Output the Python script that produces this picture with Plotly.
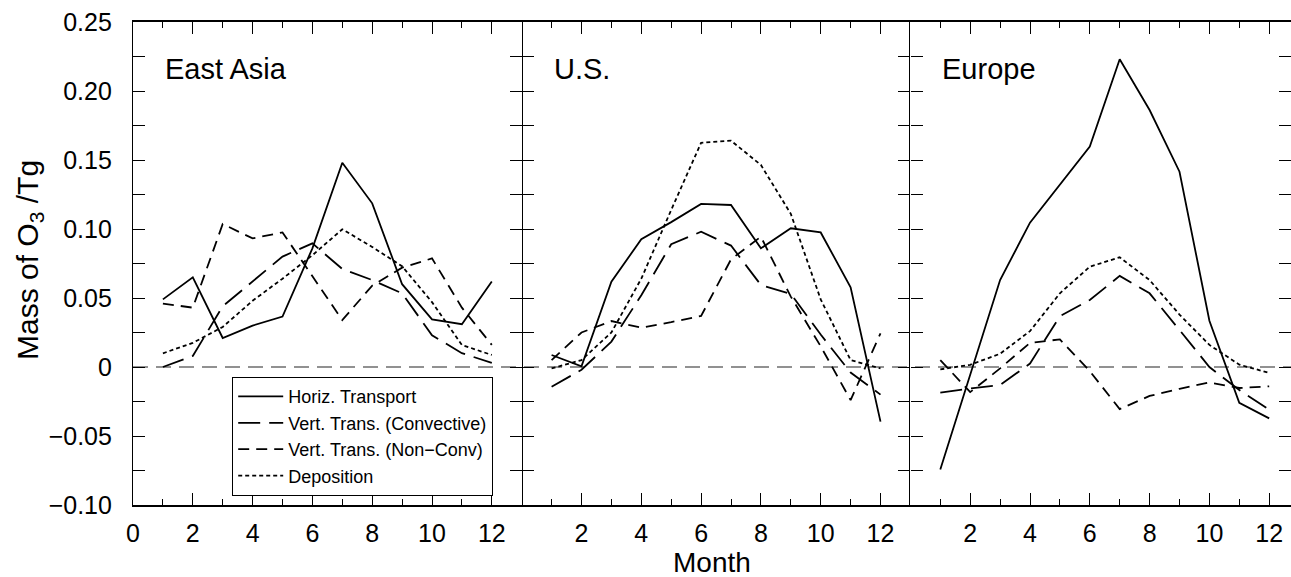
import plotly.graph_objects as go
from plotly.subplots import make_subplots

months = list(range(1, 13))
regions = ["East Asia", "U.S.", "Europe"]
series_names = ["Horiz. Transport", "Vert. Trans. (Convective)",
                "Vert. Trans. (Non\u2212Conv)", "Deposition"]

# East Asia
ea_horiz = [0.049, 0.065, 0.021, 0.030, 0.0365, 0.086, 0.148, 0.1186, 0.060, 0.0345, 0.031, 0.062]
ea_conv = [0.000, 0.008, 0.044, 0.062, 0.080, 0.0896, 0.071, 0.063, 0.0534, 0.023, 0.010, 0.003]
ea_nonconv = [0.046, 0.043, 0.1036, 0.0932, 0.0975, 0.066, 0.034, 0.059, 0.072, 0.0787, 0.043, 0.016]
ea_dep = [0.0099, 0.0175, 0.029, 0.048, 0.064, 0.081, 0.0998, 0.087, 0.073, 0.047, 0.016, 0.0087]

# U.S.
us_horiz = [0.0087, 0.0005, 0.0618, 0.0926, 0.105, 0.1182, 0.1174, 0.086, 0.1005, 0.0975, 0.0578, -0.0396]
us_conv = [-0.0143, -0.002, 0.0184, 0.052, 0.089, 0.098, 0.088, 0.0594, 0.053, 0.0235, -0.004, -0.020]
us_nonconv = [0.005, 0.025, 0.0333, 0.0285, 0.0325, 0.037, 0.078, 0.0944, 0.051, 0.015, -0.024, 0.0244]
us_dep = [-0.001, 0.005, 0.025, 0.064, 0.1138, 0.1625, 0.164, 0.1464, 0.111, 0.049, 0.005, -0.001]

# Europe
eu_horiz = [-0.0742, -0.006, 0.063, 0.1046, 0.1319, 0.1597, 0.223, 0.1862, 0.1415, 0.0335, -0.0259, -0.0372]
eu_conv = [-0.0186, -0.0155, -0.013, 0.0025, 0.0368, 0.0486, 0.066, 0.0534, 0.0268, 0.000, -0.0167, -0.031]
eu_nonconv = [0.005, -0.0182, -0.001, 0.0175, 0.020, -0.003, -0.0305, -0.021, -0.0158, -0.0112, -0.0152, -0.014]
eu_dep = [-0.0017, 0.0016, 0.0096, 0.026, 0.0534, 0.0727, 0.0795, 0.063, 0.038, 0.016, 0.0017, -0.0043]

panel_data = [
    [ea_horiz, ea_conv, ea_nonconv, ea_dep],
    [us_horiz, us_conv, us_nonconv, us_dep],
    [eu_horiz, eu_conv, eu_nonconv, eu_dep],
]

y_tickvals = [-0.10, -0.05, 0.0, 0.05, 0.10, 0.15, 0.20, 0.25]
y_ticktext = ["\u22120.10", "\u22120.05", "0", "0.05", "0.10", "0.15", "0.20", "0.25"]
x_tickvals_first = [0, 2, 4, 6, 8, 10, 12]
x_tickvals_other = [2, 4, 6, 8, 10, 12]

dashes = ["solid", "22px,9px", "11px,7px", "4px,3px"]

FONT = "Liberation Sans, Arial, Helvetica, sans-serif"

W, H = 1291, 577
L, R, T, B = 133, 0, 22, 72
month_px = 29.9
widths = [13 * month_px, 13 * month_px, (W - L - R) - 26 * month_px]
x_ranges = [[0, 13], [0, 13], [0, widths[2] / month_px]]

fig = make_subplots(rows=1, cols=3, shared_yaxes=True, horizontal_spacing=0,
                    column_widths=widths)

for c in range(3):
    for s in range(4):
        fig.add_trace(go.Scatter(
            x=months, y=panel_data[c][s], mode="lines",
            name=series_names[s], showlegend=(c == 0),
            line=dict(color="black", width=1.8, dash=dashes[s]),
            hoverinfo="skip"), row=1, col=c + 1)

for c in range(3):
    fig.update_xaxes(
        range=x_ranges[c], tickmode="array",
        tickvals=x_tickvals_first if c == 0 else x_tickvals_other,
        ticks="inside", ticklen=12, tickwidth=1.3, tickcolor="black",
        minor=dict(dtick=1, tick0=0, ticks="inside", ticklen=6, tickwidth=1.3, tickcolor="black"),
        showline=True, linecolor="black", linewidth=1.5, mirror="allticks",
        showgrid=False, zeroline=False,
        tickfont=dict(family=FONT, size=25, color="black"),
        ticklabelstandoff=5,
        row=1, col=c + 1)
    fig.update_yaxes(
        range=[-0.10, 0.25], tickmode="array", tickvals=y_tickvals,
        ticktext=y_ticktext, showticklabels=(c == 0),
        ticks="inside", ticklen=12, tickwidth=1.3, tickcolor="black",
        minor=dict(dtick=0.025, tick0=0, ticks="inside", ticklen=12, tickwidth=1.3, tickcolor="black"),
        showline=(c != 1), linecolor="black", linewidth=1.2, mirror="allticks",
        showgrid=False, zeroline=False,
        tickfont=dict(family=FONT, size=25, color="black"),
        ticklabelstandoff=15,
        row=1, col=c + 1)

fig.add_shape(type="line", xref="paper", x0=0, x1=1, yref="y", y0=0, y1=0,
              line=dict(color="#6e6e6e", width=1.5, dash="15px,8px"), layer="below")

annotations = []
for c in range(3):
    xr = "x domain" if c == 0 else f"x{c + 1} domain"
    yr = "y domain" if c == 0 else f"y{c + 1} domain"
    annotations.append(dict(text=regions[c], xref=xr, yref=yr,
                            x=30 / widths[c], y=(H - B - 69.5) / (H - T - B),
                            xanchor="left", yanchor="middle", showarrow=False,
                            font=dict(family=FONT, size=29, color="black")))
annotations.append(dict(text="Month", xref="paper", yref="paper", x=0.5,
                        y=-(562 - (H - B)) / (H - T - B), xanchor="center", yanchor="middle",
                        showarrow=False, font=dict(family=FONT, size=28, color="black")))
annotations.append(dict(text="Mass of O<sub>3</sub> /Tg", xref="paper", yref="paper",
                        x=(29 - L) / (W - L - R), y=(H - B - 260) / (H - T - B),
                        xanchor="center", yanchor="middle", textangle=-90, showarrow=False,
                        font=dict(family=FONT, size=30, color="black")))

fig.update_layout(
    width=W, height=H,
    margin=dict(l=L, r=R, t=T, b=B, pad=0),
    paper_bgcolor="white", plot_bgcolor="white",
    font=dict(family=FONT, color="black"),
    annotations=annotations,
    legend=dict(x=(232 - L) / (W - L - R), y=(H - B - 377) / (H - T - B),
                xanchor="left", yanchor="top", bgcolor="white",
                bordercolor="black", borderwidth=1.2,
                font=dict(family=FONT, size=18, color="black"),
                itemwidth=45, tracegroupgap=0),
)

fig.write_html("out.html")
